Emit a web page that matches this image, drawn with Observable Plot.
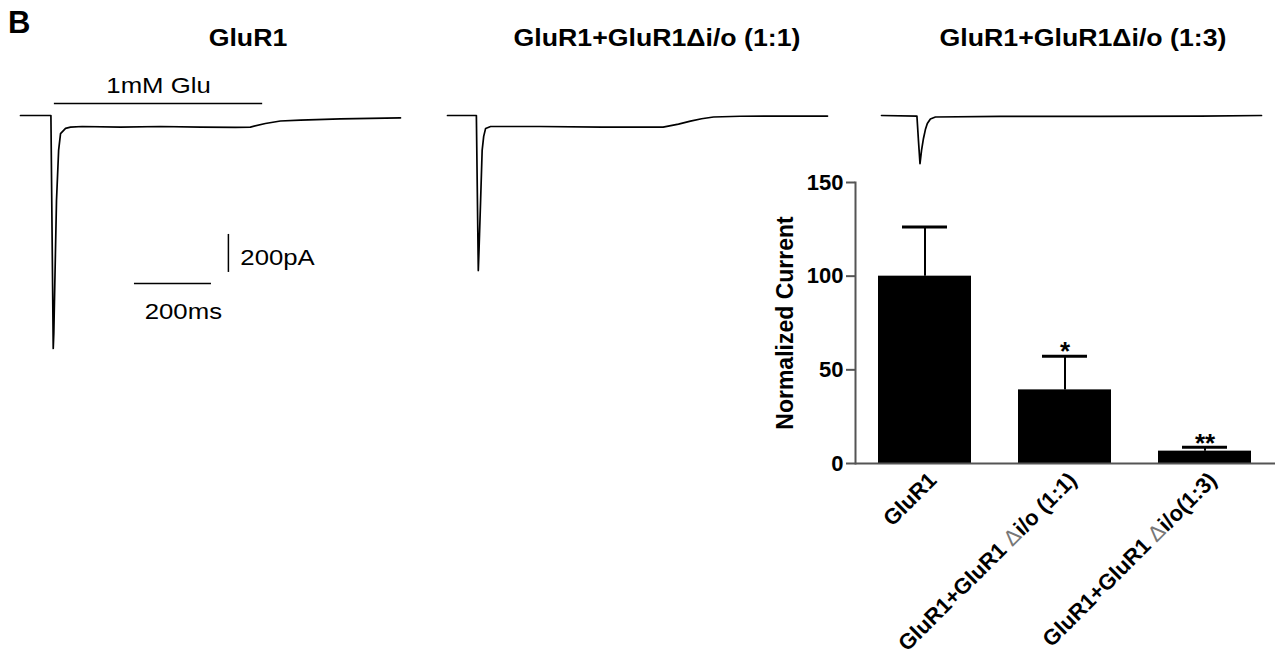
<!DOCTYPE html>
<html>
<head>
<meta charset="utf-8">
<script src="https://cdn.jsdelivr.net/npm/d3@7"></script>
<script src="https://cdn.jsdelivr.net/npm/@observablehq/plot@0.6"></script>
<style>
  html, body { margin: 0; padding: 0; background: #fff; }
  #fig { position: relative; width: 1285px; height: 663px; overflow: hidden; background: #fff;
         font-family: "Liberation Sans", Arial, Helvetica, sans-serif; color: #000; }
  .title { position: absolute; top: 27px; width: 420px; text-align: center; font-weight: bold;
           font-size: 23px; line-height: 23px; white-space: nowrap; transform: scaleX(1.16); transform-origin: center; }
  .panel-letter { position: absolute; left: 8px; top: 7px; font-weight: bold; font-size: 31px; line-height: 31px; }
  #fig svg { position: absolute; top: 0; background: transparent; }
</style>
</head>
<body>
<div id="fig"></div>
<script>
// ---------------- data ----------------
const panelLetter = "B";
const panelTitles = ["GluR1", "GluR1+GluR1\u0394i/o (1:1)", "GluR1+GluR1\u0394i/o (1:3)"];

// whole-cell current traces: time (ms) and current (pA)
const trace1Time    = [0, 79, 85, 86.5, 93.5, 99, 104, 117, 130, 160, 260, 364, 468, 558, 597, 636, 675, 727, 831, 987];
const trace1Current = [0, 0, -1226, -1147, -447, -184, -95, -68, -61, -58, -61, -58, -61, -63, -61, -42, -29, -24, -18, -13];

const trace2Time    = [0, 75, 80, 82, 86, 90, 94, 99, 112, 240, 400, 560, 600, 631, 660, 691, 760, 987];
const trace2Current = [0, 0, -816, -700, -447, -184, -110, -68, -58, -58, -61, -61, -45, -30, -17, -8, -4, -3];

const trace3Time    = [0, 92, 96, 100, 104, 109, 114, 119, 127, 140, 309, 569, 829, 987];
const trace3Current = [0, -3, -132, -253, -184, -121, -74, -42, -18, -8, -5, -5, -3, 0];

// glutamate application (ms) and scale bars
const gluLabel = "1mM Glu";
const gluOn = 88, gluOff = 629;
const scaleBarTime = 200;      // ms
const scaleBarCurrent = 200;   // pA
const scaleTimeLabel = "200ms";
const scaleCurrentLabel = "200pA";

// summary bar chart
const barCategories = ["GluR1", "GluR1+GluR1 \u0394i/o (1:1)", "GluR1+GluR1 \u0394i/o(1:3)"];
const barMeans = [100, 39.3, 6.6];
const barSEM = [26.2, 18, 2.1];
const barStars = ["", "*", "**"];
const yTicks = [0, 50, 100, 150];
const yLabel = "Normalized Current";

// ---------------- layout ----------------
const fig = document.getElementById("fig");
const FONT = '"Liberation Sans", Arial, Helvetica, sans-serif';

const letter = document.createElement("div");
letter.className = "panel-letter";
letter.textContent = panelLetter;
fig.appendChild(letter);

const titleCenters = [248, 657, 1083];
panelTitles.forEach((t, i) => {
  const d = document.createElement("div");
  d.className = "title";
  d.style.left = (titleCenters[i] - 210) + "px";
  d.textContent = t;
  fig.appendChild(d);
});

// ---------------- traces ----------------
const traces = [
  {time: trace1Time, current: trace1Current},
  {time: trace2Time, current: trace2Current},
  {time: trace3Time, current: trace3Current}
];
const panelLeft = [10, 437, 871];

// annotation anchors (in data units of panel 1)
const gluLevel = 63, gluTextLevel = 155;
const vBarTime = 540, vBarTop = -626;
const hBarStart = 296, hBarLevel = -884;
const vLabelTime = 571, vLabelLevel = -750;
const hLabelLevel = -1034;

traces.forEach((tr, i) => {
  const pts = tr.time.map((t, j) => ({t, I: tr.current[j]}));
  const marks = [
    Plot.line(pts, {x: "t", y: "I", stroke: "#000", strokeWidth: 1.7})
  ];
  if (i === 0) {
    marks.push(
      Plot.ruleY([{a: gluOn, b: gluOff, y: gluLevel}], {x1: "a", x2: "b", y: "y", stroke: "#000", strokeWidth: 1.5}),
      Plot.text([{x: (gluOn + gluOff) / 2, y: gluTextLevel, s: gluLabel}], {x: "x", y: "y", text: "s", fontSize: 22, fill: "#000", textAnchor: "middle"}),
      Plot.ruleX([{x: vBarTime, y1: vBarTop, y2: vBarTop - scaleBarCurrent}], {x: "x", y1: "y1", y2: "y2", stroke: "#000", strokeWidth: 1.5}),
      Plot.ruleY([{x1: hBarStart, x2: hBarStart + scaleBarTime, y: hBarLevel}], {x1: "x1", x2: "x2", y: "y", stroke: "#000", strokeWidth: 1.5}),
      Plot.text([{x: vLabelTime, y: vLabelLevel, s: scaleCurrentLabel}], {x: "x", y: "y", text: "s", fontSize: 22, fill: "#000", textAnchor: "start"}),
      Plot.text([{x: hBarStart + scaleBarTime / 2 + 27, y: hLabelLevel, s: scaleTimeLabel}], {x: "x", y: "y", text: "s", fontSize: 22, fill: "#000", textAnchor: "middle"})
    );
  }
  const svg = Plot.plot({
    width: 400, height: 365,
    x: {domain: [0, 987], range: [10, 390], axis: null},
    y: {domain: [-1300, 600], range: [362, 1], axis: null},
    style: {fontFamily: FONT, background: "transparent", overflow: "visible"},
    marks
  });
  svg.classList.add("trace");
  svg.style.left = panelLeft[i] + "px";
  svg.style.top = "0px";
  fig.appendChild(svg);
});

// horizontally stretch the trace annotations, as in the original figure
d3.selectAll("svg.trace text").each(function () {
  const L = this.getComputedTextLength();
  this.setAttribute("textLength", (L * 1.17).toFixed(1));
  this.setAttribute("lengthAdjust", "spacingAndGlyphs");
});

// ---------------- bar chart ----------------
const barData = barCategories.map((c, i) => ({
  cat: c, mean: barMeans[i], upper: barMeans[i] + barSEM[i], star: barStars[i]
}));

const AXIS = "#555";
const bar = Plot.plot({
  width: 545, height: 503,
  marginLeft: 115, marginRight: 10, marginTop: 22, marginBottom: 200,
  x: {domain: barCategories, paddingInner: 1 / 3, paddingOuter: 1 / 6, axis: null},
  y: {domain: [0, 150], axis: null},
  style: {fontFamily: FONT, background: "transparent", overflow: "visible"},
  marks: [
    Plot.barY(barData, {x: "cat", y: "mean", fill: "#000"}),
    Plot.ruleX(barData, {x: "cat", y1: "mean", y2: "upper", stroke: "#000", strokeWidth: 2}),
    Plot.tickY(barData, {x: "cat", y: "upper", stroke: "#000", strokeWidth: 3, inset: 24}),
    Plot.text(barData, {x: "cat", y: "upper", text: "star", dy: -4, fontSize: 26, fontWeight: "bold", fill: "#000"}),
    Plot.axisY({ticks: yTicks, tickSize: 9, tickPadding: 3, fontSize: 22, fontWeight: "bold",
                stroke: AXIS, strokeWidth: 2, fill: "#000", label: null}),
    Plot.frame({anchor: "left", stroke: AXIS, strokeWidth: 2}),
    Plot.ruleY([0], {stroke: AXIS, strokeWidth: 2}),
    Plot.text([yLabel], {frameAnchor: "left", rotate: -90, dx: -70, textAnchor: "middle", lineAnchor: "middle",
                         fontSize: 23, fontWeight: "bold", fill: "#000"}),
    Plot.text(barCategories, {x: d => d, frameAnchor: "bottom", rotate: -45, textAnchor: "end", lineAnchor: "middle",
                              dx: 8, dy: 13, fontSize: 22, fontWeight: "bold", fill: "#000"})
  ]
});
bar.style.left = "740px";
bar.style.top = "160px";
fig.appendChild(bar);

// the delta sign in the category labels is set lighter, as in the original
d3.select(bar).selectAll("text").filter(function () { return this.textContent.includes("\u0394"); }).each(function () {
  const s = this.textContent, k = s.indexOf("\u0394");
  const el = d3.select(this);
  el.text(null);
  el.append("tspan").text(s.slice(0, k));
  el.append("tspan").attr("font-weight", "normal").attr("fill", "#777").text("\u0394");
  el.append("tspan").text(s.slice(k + 1));
});
</script>
</body>
</html>
